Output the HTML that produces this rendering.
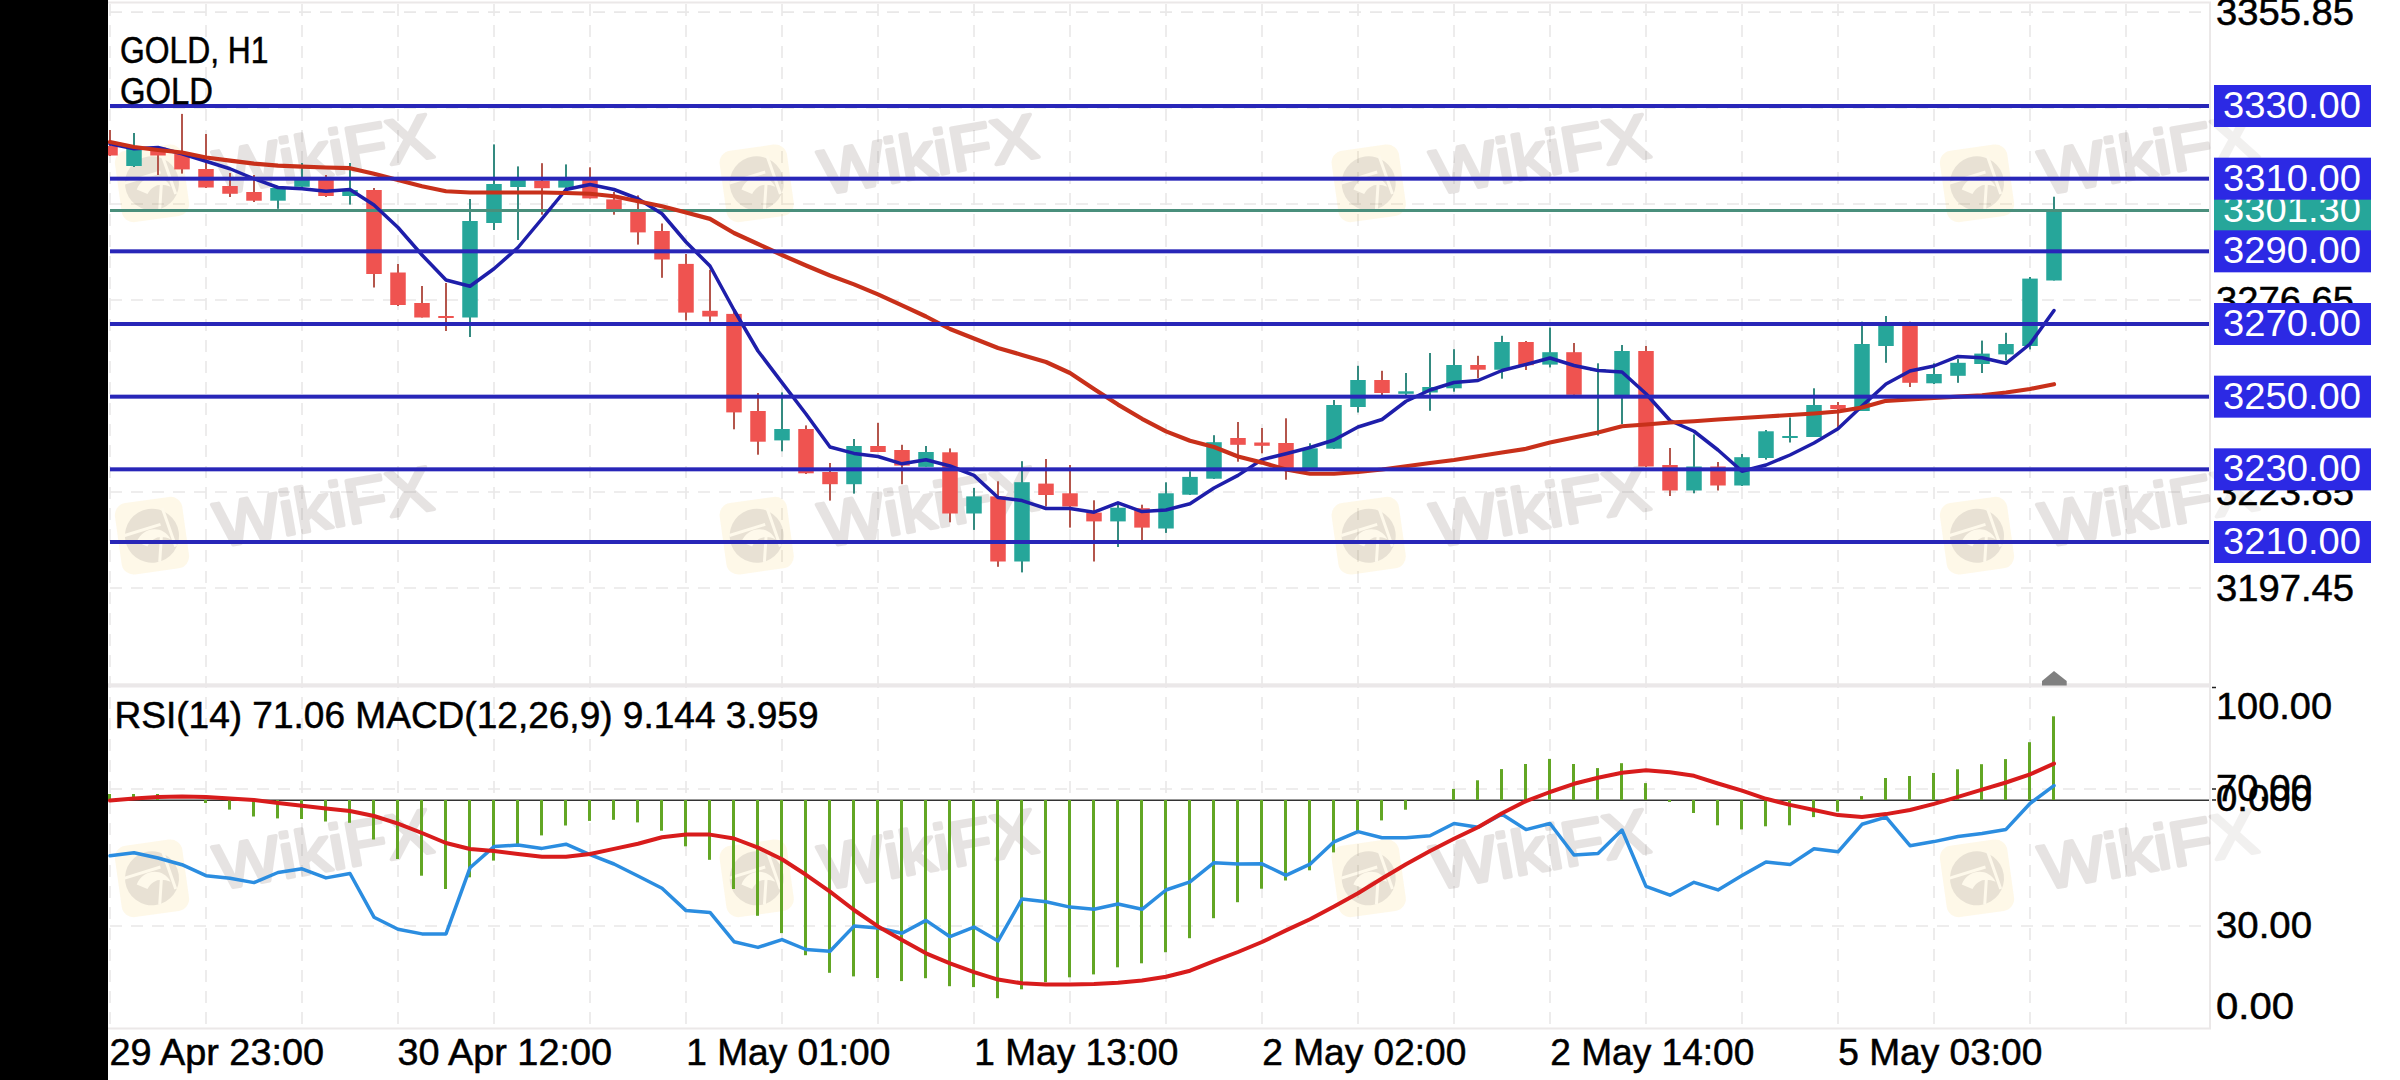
<!DOCTYPE html>
<html><head><meta charset="utf-8"><title>GOLD H1</title>
<style>html,body{margin:0;padding:0;width:2400px;height:1080px;overflow:hidden;background:#fff;position:relative}</style>
</head><body>
<svg width="2400" height="1080" viewBox="0 0 2400 1080" style="position:absolute;left:0;top:0;display:block">
<rect x="0" y="0" width="2400" height="1080" fill="#ffffff"/>
<g fill="none" stroke="#ebe8e8">
<line x1="108" y1="2.5" x2="2211" y2="2.5" stroke-width="2"/>
<line x1="2210" y1="2" x2="2210" y2="1029" stroke-width="2"/>
<line x1="108" y1="1028.5" x2="2211" y2="1028.5" stroke-width="2"/>
</g>
<g stroke="#e9e8e8" stroke-width="1.6" stroke-dasharray="12 9" fill="none">
<line x1="110" y1="4" x2="110" y2="1027"/>
<line x1="206" y1="4" x2="206" y2="1027"/>
<line x1="302" y1="4" x2="302" y2="1027"/>
<line x1="398" y1="4" x2="398" y2="1027"/>
<line x1="494" y1="4" x2="494" y2="1027"/>
<line x1="590" y1="4" x2="590" y2="1027"/>
<line x1="686" y1="4" x2="686" y2="1027"/>
<line x1="782" y1="4" x2="782" y2="1027"/>
<line x1="878" y1="4" x2="878" y2="1027"/>
<line x1="974" y1="4" x2="974" y2="1027"/>
<line x1="1070" y1="4" x2="1070" y2="1027"/>
<line x1="1166" y1="4" x2="1166" y2="1027"/>
<line x1="1262" y1="4" x2="1262" y2="1027"/>
<line x1="1358" y1="4" x2="1358" y2="1027"/>
<line x1="1454" y1="4" x2="1454" y2="1027"/>
<line x1="1550" y1="4" x2="1550" y2="1027"/>
<line x1="1646" y1="4" x2="1646" y2="1027"/>
<line x1="1742" y1="4" x2="1742" y2="1027"/>
<line x1="1838" y1="4" x2="1838" y2="1027"/>
<line x1="1934" y1="4" x2="1934" y2="1027"/>
<line x1="2030" y1="4" x2="2030" y2="1027"/>
<line x1="2126" y1="4" x2="2126" y2="1027"/>
<line x1="110" y1="12.1" x2="2209" y2="12.1"/>
<line x1="110" y1="108" x2="2209" y2="108"/>
<line x1="110" y1="204" x2="2209" y2="204"/>
<line x1="110" y1="300" x2="2209" y2="300"/>
<line x1="110" y1="396" x2="2209" y2="396"/>
<line x1="110" y1="492" x2="2209" y2="492"/>
<line x1="110" y1="588" x2="2209" y2="588"/>
<line x1="110" y1="789" x2="2209" y2="789"/>
<line x1="110" y1="926" x2="2209" y2="926"/>
</g>
<rect x="108" y="683.3" width="2102" height="4.2" fill="#ebe8e9"/>
<g transform="translate(152,183.3) rotate(-8)">
<rect x="-34" y="-36" width="68" height="72" rx="12" fill="#f5c842" fill-opacity="0.12"/>
<g opacity="0.15"><circle cx="0" cy="0" r="27" fill="#6f6565"/>
<path d="M-16,4 C-8,-10 12,-10 18,6 C8,0 0,2 -6,10 Z" fill="#ffffff"/>
<path d="M4,27 L10,-2 M-27,-4 L10,-10 M14,-26 L22,14" stroke="#ffffff" stroke-width="3"/></g>
</g>
<g transform="translate(152,183.3) rotate(-10)" opacity="0.18">
<text x="64" y="23" font-family='"Liberation Sans", sans-serif' font-size="63" fill="#7a6b66" stroke="#7a6b66" stroke-width="3.5" stroke-linejoin="round" stroke-linecap="round" textLength="220" lengthAdjust="spacingAndGlyphs">WikiFX</text>
</g>
<g transform="translate(756.7,183.3) rotate(-8)">
<rect x="-34" y="-36" width="68" height="72" rx="12" fill="#f5c842" fill-opacity="0.12"/>
<g opacity="0.15"><circle cx="0" cy="0" r="27" fill="#6f6565"/>
<path d="M-16,4 C-8,-10 12,-10 18,6 C8,0 0,2 -6,10 Z" fill="#ffffff"/>
<path d="M4,27 L10,-2 M-27,-4 L10,-10 M14,-26 L22,14" stroke="#ffffff" stroke-width="3"/></g>
</g>
<g transform="translate(756.7,183.3) rotate(-10)" opacity="0.18">
<text x="64" y="23" font-family='"Liberation Sans", sans-serif' font-size="63" fill="#7a6b66" stroke="#7a6b66" stroke-width="3.5" stroke-linejoin="round" stroke-linecap="round" textLength="220" lengthAdjust="spacingAndGlyphs">WikiFX</text>
</g>
<g transform="translate(1368.7,183.3) rotate(-8)">
<rect x="-34" y="-36" width="68" height="72" rx="12" fill="#f5c842" fill-opacity="0.12"/>
<g opacity="0.15"><circle cx="0" cy="0" r="27" fill="#6f6565"/>
<path d="M-16,4 C-8,-10 12,-10 18,6 C8,0 0,2 -6,10 Z" fill="#ffffff"/>
<path d="M4,27 L10,-2 M-27,-4 L10,-10 M14,-26 L22,14" stroke="#ffffff" stroke-width="3"/></g>
</g>
<g transform="translate(1368.7,183.3) rotate(-10)" opacity="0.18">
<text x="64" y="23" font-family='"Liberation Sans", sans-serif' font-size="63" fill="#7a6b66" stroke="#7a6b66" stroke-width="3.5" stroke-linejoin="round" stroke-linecap="round" textLength="220" lengthAdjust="spacingAndGlyphs">WikiFX</text>
</g>
<g transform="translate(1977,183.3) rotate(-8)">
<rect x="-34" y="-36" width="68" height="72" rx="12" fill="#f5c842" fill-opacity="0.12"/>
<g opacity="0.15"><circle cx="0" cy="0" r="27" fill="#6f6565"/>
<path d="M-16,4 C-8,-10 12,-10 18,6 C8,0 0,2 -6,10 Z" fill="#ffffff"/>
<path d="M4,27 L10,-2 M-27,-4 L10,-10 M14,-26 L22,14" stroke="#ffffff" stroke-width="3"/></g>
</g>
<g transform="translate(1977,183.3) rotate(-10)" opacity="0.18">
<text x="64" y="23" font-family='"Liberation Sans", sans-serif' font-size="63" fill="#7a6b66" stroke="#7a6b66" stroke-width="3.5" stroke-linejoin="round" stroke-linecap="round" textLength="220" lengthAdjust="spacingAndGlyphs">WikiFX</text>
</g>
<g transform="translate(152,535.7) rotate(-8)">
<rect x="-34" y="-36" width="68" height="72" rx="12" fill="#f5c842" fill-opacity="0.12"/>
<g opacity="0.15"><circle cx="0" cy="0" r="27" fill="#6f6565"/>
<path d="M-16,4 C-8,-10 12,-10 18,6 C8,0 0,2 -6,10 Z" fill="#ffffff"/>
<path d="M4,27 L10,-2 M-27,-4 L10,-10 M14,-26 L22,14" stroke="#ffffff" stroke-width="3"/></g>
</g>
<g transform="translate(152,535.7) rotate(-10)" opacity="0.18">
<text x="64" y="23" font-family='"Liberation Sans", sans-serif' font-size="63" fill="#7a6b66" stroke="#7a6b66" stroke-width="3.5" stroke-linejoin="round" stroke-linecap="round" textLength="220" lengthAdjust="spacingAndGlyphs">WikiFX</text>
</g>
<g transform="translate(756.7,535.7) rotate(-8)">
<rect x="-34" y="-36" width="68" height="72" rx="12" fill="#f5c842" fill-opacity="0.12"/>
<g opacity="0.15"><circle cx="0" cy="0" r="27" fill="#6f6565"/>
<path d="M-16,4 C-8,-10 12,-10 18,6 C8,0 0,2 -6,10 Z" fill="#ffffff"/>
<path d="M4,27 L10,-2 M-27,-4 L10,-10 M14,-26 L22,14" stroke="#ffffff" stroke-width="3"/></g>
</g>
<g transform="translate(756.7,535.7) rotate(-10)" opacity="0.18">
<text x="64" y="23" font-family='"Liberation Sans", sans-serif' font-size="63" fill="#7a6b66" stroke="#7a6b66" stroke-width="3.5" stroke-linejoin="round" stroke-linecap="round" textLength="220" lengthAdjust="spacingAndGlyphs">WikiFX</text>
</g>
<g transform="translate(1368.7,535.7) rotate(-8)">
<rect x="-34" y="-36" width="68" height="72" rx="12" fill="#f5c842" fill-opacity="0.12"/>
<g opacity="0.15"><circle cx="0" cy="0" r="27" fill="#6f6565"/>
<path d="M-16,4 C-8,-10 12,-10 18,6 C8,0 0,2 -6,10 Z" fill="#ffffff"/>
<path d="M4,27 L10,-2 M-27,-4 L10,-10 M14,-26 L22,14" stroke="#ffffff" stroke-width="3"/></g>
</g>
<g transform="translate(1368.7,535.7) rotate(-10)" opacity="0.18">
<text x="64" y="23" font-family='"Liberation Sans", sans-serif' font-size="63" fill="#7a6b66" stroke="#7a6b66" stroke-width="3.5" stroke-linejoin="round" stroke-linecap="round" textLength="220" lengthAdjust="spacingAndGlyphs">WikiFX</text>
</g>
<g transform="translate(1977,535.7) rotate(-8)">
<rect x="-34" y="-36" width="68" height="72" rx="12" fill="#f5c842" fill-opacity="0.12"/>
<g opacity="0.15"><circle cx="0" cy="0" r="27" fill="#6f6565"/>
<path d="M-16,4 C-8,-10 12,-10 18,6 C8,0 0,2 -6,10 Z" fill="#ffffff"/>
<path d="M4,27 L10,-2 M-27,-4 L10,-10 M14,-26 L22,14" stroke="#ffffff" stroke-width="3"/></g>
</g>
<g transform="translate(1977,535.7) rotate(-10)" opacity="0.18">
<text x="64" y="23" font-family='"Liberation Sans", sans-serif' font-size="63" fill="#7a6b66" stroke="#7a6b66" stroke-width="3.5" stroke-linejoin="round" stroke-linecap="round" textLength="220" lengthAdjust="spacingAndGlyphs">WikiFX</text>
</g>
<g transform="translate(152,878.3) rotate(-8)">
<rect x="-34" y="-36" width="68" height="72" rx="12" fill="#f5c842" fill-opacity="0.12"/>
<g opacity="0.15"><circle cx="0" cy="0" r="27" fill="#6f6565"/>
<path d="M-16,4 C-8,-10 12,-10 18,6 C8,0 0,2 -6,10 Z" fill="#ffffff"/>
<path d="M4,27 L10,-2 M-27,-4 L10,-10 M14,-26 L22,14" stroke="#ffffff" stroke-width="3"/></g>
</g>
<g transform="translate(152,878.3) rotate(-10)" opacity="0.18">
<text x="64" y="23" font-family='"Liberation Sans", sans-serif' font-size="63" fill="#7a6b66" stroke="#7a6b66" stroke-width="3.5" stroke-linejoin="round" stroke-linecap="round" textLength="220" lengthAdjust="spacingAndGlyphs">WikiFX</text>
</g>
<g transform="translate(756.7,878.3) rotate(-8)">
<rect x="-34" y="-36" width="68" height="72" rx="12" fill="#f5c842" fill-opacity="0.12"/>
<g opacity="0.15"><circle cx="0" cy="0" r="27" fill="#6f6565"/>
<path d="M-16,4 C-8,-10 12,-10 18,6 C8,0 0,2 -6,10 Z" fill="#ffffff"/>
<path d="M4,27 L10,-2 M-27,-4 L10,-10 M14,-26 L22,14" stroke="#ffffff" stroke-width="3"/></g>
</g>
<g transform="translate(756.7,878.3) rotate(-10)" opacity="0.18">
<text x="64" y="23" font-family='"Liberation Sans", sans-serif' font-size="63" fill="#7a6b66" stroke="#7a6b66" stroke-width="3.5" stroke-linejoin="round" stroke-linecap="round" textLength="220" lengthAdjust="spacingAndGlyphs">WikiFX</text>
</g>
<g transform="translate(1368.7,878.3) rotate(-8)">
<rect x="-34" y="-36" width="68" height="72" rx="12" fill="#f5c842" fill-opacity="0.12"/>
<g opacity="0.15"><circle cx="0" cy="0" r="27" fill="#6f6565"/>
<path d="M-16,4 C-8,-10 12,-10 18,6 C8,0 0,2 -6,10 Z" fill="#ffffff"/>
<path d="M4,27 L10,-2 M-27,-4 L10,-10 M14,-26 L22,14" stroke="#ffffff" stroke-width="3"/></g>
</g>
<g transform="translate(1368.7,878.3) rotate(-10)" opacity="0.18">
<text x="64" y="23" font-family='"Liberation Sans", sans-serif' font-size="63" fill="#7a6b66" stroke="#7a6b66" stroke-width="3.5" stroke-linejoin="round" stroke-linecap="round" textLength="220" lengthAdjust="spacingAndGlyphs">WikiFX</text>
</g>
<g transform="translate(1977,878.3) rotate(-8)">
<rect x="-34" y="-36" width="68" height="72" rx="12" fill="#f5c842" fill-opacity="0.12"/>
<g opacity="0.15"><circle cx="0" cy="0" r="27" fill="#6f6565"/>
<path d="M-16,4 C-8,-10 12,-10 18,6 C8,0 0,2 -6,10 Z" fill="#ffffff"/>
<path d="M4,27 L10,-2 M-27,-4 L10,-10 M14,-26 L22,14" stroke="#ffffff" stroke-width="3"/></g>
</g>
<g transform="translate(1977,878.3) rotate(-10)" opacity="0.18">
<text x="64" y="23" font-family='"Liberation Sans", sans-serif' font-size="63" fill="#7a6b66" stroke="#7a6b66" stroke-width="3.5" stroke-linejoin="round" stroke-linecap="round" textLength="220" lengthAdjust="spacingAndGlyphs">WikiFX</text>
</g>
<rect x="2211" y="0" width="189" height="1080" fill="#ffffff" fill-opacity="0.45"/>
<rect x="109" y="130" width="2" height="26" fill="#b4564c"/>
<rect x="102.25" y="146" width="15.5" height="9.5" fill="#ef5350"/>
<rect x="133" y="133" width="2" height="34" fill="#348a80"/>
<rect x="126.25" y="149" width="15.5" height="17" fill="#26a69a"/>
<rect x="157" y="146" width="2" height="29" fill="#b4564c"/>
<rect x="150.25" y="147.5" width="15.5" height="8" fill="#ef5350"/>
<rect x="181" y="113.9" width="2" height="59.7" fill="#b4564c"/>
<rect x="174.25" y="153.7" width="15.5" height="15.7" fill="#ef5350"/>
<rect x="205" y="134" width="2" height="54" fill="#b4564c"/>
<rect x="198.25" y="169" width="15.5" height="18.5" fill="#ef5350"/>
<rect x="229" y="173" width="2" height="24" fill="#b4564c"/>
<rect x="222.25" y="186" width="15.5" height="7.75" fill="#ef5350"/>
<rect x="253" y="175" width="2" height="27" fill="#b4564c"/>
<rect x="246.25" y="192" width="15.5" height="8.7" fill="#ef5350"/>
<rect x="277" y="186.8" width="2" height="22" fill="#348a80"/>
<rect x="270.25" y="188" width="15.5" height="12.7" fill="#26a69a"/>
<rect x="301" y="163" width="2" height="25" fill="#348a80"/>
<rect x="294.25" y="180" width="15.5" height="6.8" fill="#26a69a"/>
<rect x="325" y="175" width="2" height="22" fill="#b4564c"/>
<rect x="318.25" y="180" width="15.5" height="16" fill="#ef5350"/>
<rect x="349" y="163" width="2" height="41.6" fill="#348a80"/>
<rect x="342.25" y="190" width="15.5" height="6" fill="#26a69a"/>
<rect x="373" y="188" width="2" height="99.5" fill="#b4564c"/>
<rect x="366.25" y="190" width="15.5" height="84" fill="#ef5350"/>
<rect x="397" y="264" width="2" height="42" fill="#b4564c"/>
<rect x="390.25" y="272.5" width="15.5" height="32.5" fill="#ef5350"/>
<rect x="421" y="286" width="2" height="31.5" fill="#b4564c"/>
<rect x="414.25" y="303" width="15.5" height="14.5" fill="#ef5350"/>
<rect x="445" y="283" width="2" height="48" fill="#b4564c"/>
<rect x="438.25" y="316" width="15.5" height="2" fill="#ef5350"/>
<rect x="469" y="199" width="2" height="138" fill="#348a80"/>
<rect x="462.25" y="221" width="15.5" height="96.5" fill="#26a69a"/>
<rect x="493" y="144.4" width="2" height="85.6" fill="#348a80"/>
<rect x="486.25" y="184" width="15.5" height="39" fill="#26a69a"/>
<rect x="517" y="166.4" width="2" height="73.6" fill="#348a80"/>
<rect x="510.25" y="180" width="15.5" height="7" fill="#26a69a"/>
<rect x="541" y="163.2" width="2" height="51.5" fill="#b4564c"/>
<rect x="534.25" y="180.7" width="15.5" height="7.5" fill="#ef5350"/>
<rect x="565" y="164.4" width="2" height="23.6" fill="#348a80"/>
<rect x="558.25" y="180" width="15.5" height="7.6" fill="#26a69a"/>
<rect x="589" y="167.3" width="2" height="31.1" fill="#b4564c"/>
<rect x="582.25" y="180" width="15.5" height="18.4" fill="#ef5350"/>
<rect x="613" y="192" width="2" height="22.7" fill="#b4564c"/>
<rect x="606.25" y="199.4" width="15.5" height="11.2" fill="#ef5350"/>
<rect x="637" y="195.4" width="2" height="49.2" fill="#b4564c"/>
<rect x="630.25" y="209.6" width="15.5" height="22.8" fill="#ef5350"/>
<rect x="661" y="223.5" width="2" height="54.3" fill="#b4564c"/>
<rect x="654.25" y="231" width="15.5" height="28.5" fill="#ef5350"/>
<rect x="685" y="254" width="2" height="66.4" fill="#b4564c"/>
<rect x="678.25" y="263.9" width="15.5" height="48.7" fill="#ef5350"/>
<rect x="709" y="269.8" width="2" height="51.9" fill="#b4564c"/>
<rect x="702.25" y="310.8" width="15.5" height="5.7" fill="#ef5350"/>
<rect x="733" y="308.7" width="2" height="120.6" fill="#b4564c"/>
<rect x="726.25" y="313.9" width="15.5" height="98.5" fill="#ef5350"/>
<rect x="757" y="393" width="2" height="61.7" fill="#b4564c"/>
<rect x="750.25" y="411" width="15.5" height="30.7" fill="#ef5350"/>
<rect x="781" y="392.4" width="2" height="58.9" fill="#348a80"/>
<rect x="774.25" y="429" width="15.5" height="11.4" fill="#26a69a"/>
<rect x="805" y="425.4" width="2" height="48.6" fill="#b4564c"/>
<rect x="798.25" y="429" width="15.5" height="44.3" fill="#ef5350"/>
<rect x="829" y="463" width="2" height="37.6" fill="#b4564c"/>
<rect x="822.25" y="472" width="15.5" height="12.2" fill="#ef5350"/>
<rect x="853" y="439" width="2" height="54.6" fill="#348a80"/>
<rect x="846.25" y="446" width="15.5" height="38.2" fill="#26a69a"/>
<rect x="877" y="422.8" width="2" height="29.2" fill="#b4564c"/>
<rect x="870.25" y="446" width="15.5" height="6" fill="#ef5350"/>
<rect x="901" y="444.8" width="2" height="39.4" fill="#b4564c"/>
<rect x="894.25" y="450" width="15.5" height="15.6" fill="#ef5350"/>
<rect x="925" y="446" width="2" height="21" fill="#348a80"/>
<rect x="918.25" y="452" width="15.5" height="14.9" fill="#26a69a"/>
<rect x="949" y="448.4" width="2" height="73.9" fill="#b4564c"/>
<rect x="942.25" y="452.3" width="15.5" height="61.2" fill="#ef5350"/>
<rect x="973" y="488" width="2" height="41.9" fill="#348a80"/>
<rect x="966.25" y="496.4" width="15.5" height="17.1" fill="#26a69a"/>
<rect x="997" y="481.3" width="2" height="85.5" fill="#b4564c"/>
<rect x="990.25" y="496.4" width="15.5" height="65.1" fill="#ef5350"/>
<rect x="1021" y="461.2" width="2" height="111.2" fill="#348a80"/>
<rect x="1014.25" y="482.2" width="15.5" height="79.3" fill="#26a69a"/>
<rect x="1045" y="459" width="2" height="47.5" fill="#b4564c"/>
<rect x="1038.25" y="483.6" width="15.5" height="11.4" fill="#ef5350"/>
<rect x="1069" y="465" width="2" height="62.6" fill="#b4564c"/>
<rect x="1062.25" y="493.3" width="15.5" height="13.2" fill="#ef5350"/>
<rect x="1093" y="500.3" width="2" height="61.2" fill="#b4564c"/>
<rect x="1086.25" y="512.6" width="15.5" height="8.8" fill="#ef5350"/>
<rect x="1117" y="502" width="2" height="45" fill="#348a80"/>
<rect x="1110.25" y="507.7" width="15.5" height="13.7" fill="#26a69a"/>
<rect x="1141" y="504.7" width="2" height="35.3" fill="#b4564c"/>
<rect x="1134.25" y="508.2" width="15.5" height="19.4" fill="#ef5350"/>
<rect x="1165" y="482.3" width="2" height="50.6" fill="#348a80"/>
<rect x="1158.25" y="493.3" width="15.5" height="35.2" fill="#26a69a"/>
<rect x="1189" y="471.3" width="2" height="23.7" fill="#348a80"/>
<rect x="1182.25" y="476.9" width="15.5" height="17.8" fill="#26a69a"/>
<rect x="1213" y="435.2" width="2" height="43.8" fill="#348a80"/>
<rect x="1206.25" y="442.2" width="15.5" height="36.5" fill="#26a69a"/>
<rect x="1237" y="422" width="2" height="39.7" fill="#b4564c"/>
<rect x="1230.25" y="438" width="15.5" height="6.8" fill="#ef5350"/>
<rect x="1261" y="428" width="2" height="25.3" fill="#b4564c"/>
<rect x="1254.25" y="442.5" width="15.5" height="3.3" fill="#ef5350"/>
<rect x="1285" y="418.3" width="2" height="61.4" fill="#b4564c"/>
<rect x="1278.25" y="443" width="15.5" height="25.3" fill="#ef5350"/>
<rect x="1309" y="443.3" width="2" height="25.7" fill="#348a80"/>
<rect x="1302.25" y="448.3" width="15.5" height="20" fill="#26a69a"/>
<rect x="1333" y="400" width="2" height="49" fill="#348a80"/>
<rect x="1326.25" y="405" width="15.5" height="43.7" fill="#26a69a"/>
<rect x="1357" y="365.8" width="2" height="46.7" fill="#348a80"/>
<rect x="1350.25" y="380" width="15.5" height="27" fill="#26a69a"/>
<rect x="1381" y="370.8" width="2" height="24.2" fill="#b4564c"/>
<rect x="1374.25" y="380" width="15.5" height="13" fill="#ef5350"/>
<rect x="1405" y="373" width="2" height="22.8" fill="#348a80"/>
<rect x="1398.25" y="391.3" width="15.5" height="2.5" fill="#26a69a"/>
<rect x="1429" y="353" width="2" height="57.8" fill="#348a80"/>
<rect x="1422.25" y="387" width="15.5" height="5.5" fill="#26a69a"/>
<rect x="1453" y="349.2" width="2" height="42.5" fill="#348a80"/>
<rect x="1446.25" y="365" width="15.5" height="23.3" fill="#26a69a"/>
<rect x="1477" y="355.8" width="2" height="22.5" fill="#b4564c"/>
<rect x="1470.25" y="365" width="15.5" height="4.7" fill="#ef5350"/>
<rect x="1501" y="335.8" width="2" height="42.9" fill="#348a80"/>
<rect x="1494.25" y="342" width="15.5" height="27.7" fill="#26a69a"/>
<rect x="1525" y="341" width="2" height="29" fill="#b4564c"/>
<rect x="1518.25" y="342" width="15.5" height="23.2" fill="#ef5350"/>
<rect x="1549" y="327.6" width="2" height="39.8" fill="#348a80"/>
<rect x="1542.25" y="352.2" width="15.5" height="12.4" fill="#26a69a"/>
<rect x="1573" y="343" width="2" height="52" fill="#b4564c"/>
<rect x="1566.25" y="352.2" width="15.5" height="42.6" fill="#ef5350"/>
<rect x="1597" y="363.3" width="2" height="72.3" fill="#348a80"/>
<rect x="1590.25" y="369" width="15.5" height="2" fill="#26a69a"/>
<rect x="1621" y="345" width="2" height="79" fill="#348a80"/>
<rect x="1614.25" y="351" width="15.5" height="44" fill="#26a69a"/>
<rect x="1645" y="346" width="2" height="121" fill="#b4564c"/>
<rect x="1638.25" y="351" width="15.5" height="115.5" fill="#ef5350"/>
<rect x="1669" y="448" width="2" height="48" fill="#b4564c"/>
<rect x="1662.25" y="465" width="15.5" height="25.5" fill="#ef5350"/>
<rect x="1693" y="434.4" width="2" height="58.9" fill="#348a80"/>
<rect x="1686.25" y="466.5" width="15.5" height="24" fill="#26a69a"/>
<rect x="1717" y="462" width="2" height="28.5" fill="#b4564c"/>
<rect x="1710.25" y="466.5" width="15.5" height="19" fill="#ef5350"/>
<rect x="1741" y="454" width="2" height="32" fill="#348a80"/>
<rect x="1734.25" y="457.2" width="15.5" height="28.3" fill="#26a69a"/>
<rect x="1765" y="430" width="2" height="29.6" fill="#348a80"/>
<rect x="1758.25" y="431.3" width="15.5" height="26.7" fill="#26a69a"/>
<rect x="1789" y="417.5" width="2" height="25" fill="#348a80"/>
<rect x="1782.25" y="436" width="15.5" height="2" fill="#26a69a"/>
<rect x="1813" y="388.3" width="2" height="48.7" fill="#348a80"/>
<rect x="1806.25" y="405" width="15.5" height="32" fill="#26a69a"/>
<rect x="1837" y="402" width="2" height="26.6" fill="#b4564c"/>
<rect x="1830.25" y="405" width="15.5" height="4" fill="#ef5350"/>
<rect x="1861" y="321.7" width="2" height="89.3" fill="#348a80"/>
<rect x="1854.25" y="344" width="15.5" height="67" fill="#26a69a"/>
<rect x="1885" y="316" width="2" height="46.8" fill="#348a80"/>
<rect x="1878.25" y="325.8" width="15.5" height="20.2" fill="#26a69a"/>
<rect x="1909" y="321.7" width="2" height="65.3" fill="#b4564c"/>
<rect x="1902.25" y="323" width="15.5" height="59.8" fill="#ef5350"/>
<rect x="1933" y="363.3" width="2" height="20.7" fill="#348a80"/>
<rect x="1926.25" y="374" width="15.5" height="9.3" fill="#26a69a"/>
<rect x="1957" y="359" width="2" height="23.8" fill="#348a80"/>
<rect x="1950.25" y="362.8" width="15.5" height="13" fill="#26a69a"/>
<rect x="1981" y="340.6" width="2" height="32.4" fill="#348a80"/>
<rect x="1974.25" y="353.6" width="15.5" height="10.4" fill="#26a69a"/>
<rect x="2005" y="332.8" width="2" height="27.7" fill="#348a80"/>
<rect x="1998.25" y="344" width="15.5" height="10.4" fill="#26a69a"/>
<rect x="2029" y="277" width="2" height="72.4" fill="#348a80"/>
<rect x="2022.25" y="278.6" width="15.5" height="67.4" fill="#26a69a"/>
<rect x="2053" y="196.7" width="2" height="83.8" fill="#348a80"/>
<rect x="2046.25" y="210" width="15.5" height="70.5" fill="#26a69a"/>
<rect x="110" y="209" width="2099" height="3" fill="#4a8f7c"/>
<polyline points="110,143.75 134,148.75 158,147.5 182,153.75 206,161.25 230,168.75 254,178.75 278,187.5 302,188.75 326,191.25 350,189.5 374,205 398,227.5 422,255 446,280 470,286.25 494,268.75 518,247.5 542,218.75 566,189.5 590,184.5 614,189.5 638,198.75 662,213.75 686,242 710,266 734,310 758,351 782,382.6 806,414 830,447 854,453.4 878,456.5 902,463.8 926,459.7 950,466 974,475.4 998,497.5 1022,500.6 1046,508.5 1070,508.5 1094,512.2 1118,502.8 1142,511.6 1166,510 1190,503.7 1214,488 1238,475.4 1262,459.6 1286,453.75 1310,447.5 1334,440 1358,427 1382,419.5 1406,401.25 1430,390 1454,382.5 1478,380.5 1502,370.5 1526,364.5 1550,358 1574,365.5 1598,370.5 1622,372 1646,393.75 1670,420.5 1694,431.25 1718,450 1742,471.25 1766,465 1790,455 1814,443 1838,428.7 1862,406 1886,384 1910,371 1934,366 1958,356.4 1982,357.8 2006,363.3 2030,344 2054,310.5" fill="none" stroke="#1e1eaa" stroke-width="3.5" stroke-linejoin="round" stroke-linecap="round"/>
<polyline points="110,142 134,147 158,150 182,152.5 206,157.5 230,160.7 254,163.7 278,165.7 302,166.7 326,167.5 350,168.2 374,173.75 398,180 422,186.25 446,191.25 470,192.5 494,192.5 518,192.5 542,192.5 566,193 590,193.75 614,196.25 638,201.25 662,206.25 686,212.5 710,218.9 734,233 758,244 782,255 806,265.5 830,275.5 854,284.4 878,294.4 902,305.4 926,316.5 950,329 974,338.5 998,348 1022,354.9 1046,362 1070,373 1094,388.9 1118,404.6 1142,418.8 1166,431.4 1190,440.8 1214,447 1238,456.5 1262,462.6 1286,469.5 1310,473.75 1334,473.75 1358,472 1382,469.5 1406,466.25 1430,463 1454,460 1478,456.25 1502,452.5 1526,448.75 1550,442.5 1574,437.5 1598,432.5 1622,426.25 1646,424.5 1670,422.5 1694,421.25 1718,419.5 1742,418 1766,416.5 1790,415 1814,413.5 1838,411.5 1862,407.5 1886,400.8 1910,399.4 1934,398 1958,396.7 1982,395.3 2006,392.5 2030,389 2054,384.2" fill="none" stroke="#c8301a" stroke-width="4.2" stroke-linejoin="round" stroke-linecap="round"/>
<rect x="110" y="104" width="2099" height="4" fill="#2826b8"/>
<rect x="110" y="176.67" width="2099" height="4" fill="#2826b8"/>
<rect x="110" y="249.33" width="2099" height="4" fill="#2826b8"/>
<rect x="110" y="322" width="2099" height="4" fill="#2826b8"/>
<rect x="110" y="394.66" width="2099" height="4" fill="#2826b8"/>
<rect x="110" y="467.33" width="2099" height="4" fill="#2826b8"/>
<rect x="110" y="540" width="2099" height="4" fill="#2826b8"/>
<rect x="110" y="799.5" width="2099" height="1.5" fill="#333333"/>
<rect x="108" y="794" width="3" height="6" fill="#62a624"/>
<rect x="132" y="794" width="3" height="6" fill="#62a624"/>
<rect x="156" y="794" width="3" height="6" fill="#62a624"/>
<rect x="204" y="800" width="3" height="3" fill="#62a624"/>
<rect x="228" y="800" width="3" height="9.6" fill="#62a624"/>
<rect x="252" y="800" width="3" height="16.5" fill="#62a624"/>
<rect x="276" y="800" width="3" height="18.4" fill="#62a624"/>
<rect x="300" y="800" width="3" height="19" fill="#62a624"/>
<rect x="324" y="800" width="3" height="21.5" fill="#62a624"/>
<rect x="348" y="800" width="3" height="22.8" fill="#62a624"/>
<rect x="372" y="800" width="3" height="39.5" fill="#62a624"/>
<rect x="396" y="800" width="3" height="59" fill="#62a624"/>
<rect x="420" y="800" width="3" height="75.7" fill="#62a624"/>
<rect x="444" y="800" width="3" height="89" fill="#62a624"/>
<rect x="468" y="800" width="3" height="77.3" fill="#62a624"/>
<rect x="492" y="800" width="3" height="60.6" fill="#62a624"/>
<rect x="516" y="800" width="3" height="45" fill="#62a624"/>
<rect x="540" y="800" width="3" height="35.4" fill="#62a624"/>
<rect x="564" y="800" width="3" height="25.5" fill="#62a624"/>
<rect x="588" y="800" width="3" height="20.9" fill="#62a624"/>
<rect x="612" y="800" width="3" height="19.8" fill="#62a624"/>
<rect x="636" y="800" width="3" height="22.4" fill="#62a624"/>
<rect x="660" y="800" width="3" height="30.7" fill="#62a624"/>
<rect x="684" y="800" width="3" height="46.3" fill="#62a624"/>
<rect x="708" y="800" width="3" height="59.8" fill="#62a624"/>
<rect x="732" y="800" width="3" height="89" fill="#62a624"/>
<rect x="756" y="800" width="3" height="115.8" fill="#62a624"/>
<rect x="780" y="800" width="3" height="133.1" fill="#62a624"/>
<rect x="804" y="800" width="3" height="155.2" fill="#62a624"/>
<rect x="828" y="800" width="3" height="172.8" fill="#62a624"/>
<rect x="852" y="800" width="3" height="176.4" fill="#62a624"/>
<rect x="876" y="800" width="3" height="178" fill="#62a624"/>
<rect x="900" y="800" width="3" height="181.1" fill="#62a624"/>
<rect x="924" y="800" width="3" height="178.2" fill="#62a624"/>
<rect x="948" y="800" width="3" height="186.2" fill="#62a624"/>
<rect x="972" y="800" width="3" height="187.1" fill="#62a624"/>
<rect x="996" y="800" width="3" height="198.2" fill="#62a624"/>
<rect x="1020" y="800" width="3" height="189.3" fill="#62a624"/>
<rect x="1044" y="800" width="3" height="182.2" fill="#62a624"/>
<rect x="1068" y="800" width="3" height="177.3" fill="#62a624"/>
<rect x="1092" y="800" width="3" height="174.4" fill="#62a624"/>
<rect x="1116" y="800" width="3" height="167.3" fill="#62a624"/>
<rect x="1140" y="800" width="3" height="163.3" fill="#62a624"/>
<rect x="1164" y="800" width="3" height="152.2" fill="#62a624"/>
<rect x="1188" y="800" width="3" height="138.2" fill="#62a624"/>
<rect x="1212" y="800" width="3" height="118.2" fill="#62a624"/>
<rect x="1236" y="800" width="3" height="102.2" fill="#62a624"/>
<rect x="1260" y="800" width="3" height="88.7" fill="#62a624"/>
<rect x="1284" y="800" width="3" height="80.5" fill="#62a624"/>
<rect x="1308" y="800" width="3" height="70.3" fill="#62a624"/>
<rect x="1332" y="800" width="3" height="52.4" fill="#62a624"/>
<rect x="1356" y="800" width="3" height="31.6" fill="#62a624"/>
<rect x="1380" y="800" width="3" height="20.4" fill="#62a624"/>
<rect x="1404" y="800" width="3" height="9.7" fill="#62a624"/>
<rect x="1452" y="788.9" width="3" height="11.1" fill="#62a624"/>
<rect x="1476" y="780.3" width="3" height="19.7" fill="#62a624"/>
<rect x="1500" y="769.1" width="3" height="30.9" fill="#62a624"/>
<rect x="1524" y="764" width="3" height="36" fill="#62a624"/>
<rect x="1548" y="758.9" width="3" height="41.1" fill="#62a624"/>
<rect x="1572" y="764" width="3" height="36" fill="#62a624"/>
<rect x="1596" y="768.1" width="3" height="31.9" fill="#62a624"/>
<rect x="1620" y="763.2" width="3" height="36.8" fill="#62a624"/>
<rect x="1644" y="783.1" width="3" height="16.9" fill="#62a624"/>
<rect x="1668" y="800" width="3" height="1.9" fill="#62a624"/>
<rect x="1692" y="800" width="3" height="13" fill="#62a624"/>
<rect x="1716" y="800" width="3" height="25.3" fill="#62a624"/>
<rect x="1740" y="800" width="3" height="29.4" fill="#62a624"/>
<rect x="1764" y="800" width="3" height="26.3" fill="#62a624"/>
<rect x="1788" y="800" width="3" height="25.3" fill="#62a624"/>
<rect x="1812" y="800" width="3" height="17.1" fill="#62a624"/>
<rect x="1836" y="800" width="3" height="11.6" fill="#62a624"/>
<rect x="1860" y="796.1" width="3" height="3.9" fill="#62a624"/>
<rect x="1884" y="778" width="3" height="22" fill="#62a624"/>
<rect x="1908" y="776" width="3" height="24" fill="#62a624"/>
<rect x="1932" y="772.9" width="3" height="27.1" fill="#62a624"/>
<rect x="1956" y="769.3" width="3" height="30.7" fill="#62a624"/>
<rect x="1980" y="764.2" width="3" height="35.8" fill="#62a624"/>
<rect x="2004" y="759.1" width="3" height="40.9" fill="#62a624"/>
<rect x="2028" y="742.2" width="3" height="57.8" fill="#62a624"/>
<rect x="2052" y="716.3" width="3" height="83.7" fill="#62a624"/>
<polyline points="110,855.8 134,852.7 158,858 182,864.7 206,875.7 230,878.2 254,882.6 278,872.5 302,868.8 326,877.9 350,873.5 374,917.2 398,929.2 422,933.9 446,933.9 470,867.8 494,846.6 518,845 542,848.4 566,844.2 590,854.6 614,864 638,876 662,888.3 686,910.6 710,912.4 734,941.7 758,947.4 782,939.6 806,949.5 830,951.3 854,926.1 878,928 902,933.3 926,920.4 950,936.7 974,927.1 998,941.1 1022,898.9 1046,901.8 1070,907.1 1094,909.3 1118,904 1142,909.3 1166,890 1190,881.8 1214,862.7 1238,864 1262,863.8 1286,875.4 1310,864.2 1334,841.8 1358,831.6 1382,837.8 1406,837.8 1430,835.7 1454,823.5 1478,827.2 1502,814.3 1526,829.6 1550,823.5 1574,855 1598,853.6 1622,830 1646,886.4 1670,895.2 1694,882.3 1718,889.9 1742,875.6 1766,862 1790,864.6 1814,848.7 1838,851.8 1862,824.3 1886,817.1 1910,845.7 1934,841.6 1958,836.5 1982,833.4 2006,829.4 2030,803.5 2054,785.6" fill="none" stroke="#2b8de0" stroke-width="3.5" stroke-linejoin="round" stroke-linecap="round"/>
<polyline points="110,800.5 134,798.5 158,797 182,796.5 206,797 230,798.5 254,800 278,803 302,805.8 326,808.5 350,811 374,816 398,823.7 422,833 446,843 470,849 494,851 518,854 542,856.7 566,856.7 590,854 614,848.9 638,843.7 662,837.2 686,834.6 710,834.6 734,838.5 758,847.6 782,859.2 806,874.8 830,891.7 854,910 878,926.4 902,940 926,953.3 950,963.3 974,972.2 998,979.6 1022,983.3 1046,984.4 1070,984.4 1094,984 1118,982.7 1142,980.4 1166,976.7 1190,970.7 1214,961.1 1238,952 1262,942 1286,930.4 1310,919.2 1334,906.6 1358,893.2 1382,878.5 1406,864.2 1430,851 1454,838.8 1478,827.2 1502,813.3 1526,801.1 1550,792 1574,783.8 1598,777.7 1622,772.8 1646,770.3 1670,772.3 1694,775.8 1718,783.5 1742,790.7 1766,798.8 1790,804.9 1814,810 1838,815.1 1862,817.1 1886,814.1 1910,810 1934,803.9 1958,796.8 1982,789.6 2006,782.5 2030,774.4 2054,763.6" fill="none" stroke="#d81c1c" stroke-width="4" stroke-linejoin="round" stroke-linecap="round"/>
<polygon points="2054,671 2042,681 2042,685.4 2066.7,685.4 2066.7,681" fill="#808080"/>
<g fill="#222">
<rect x="2212" y="686.75" width="4" height="1.5"/>
<rect x="2212" y="788.25" width="4" height="1.5"/>
<rect x="2212" y="799.25" width="4" height="1.5"/>
</g>
<text x="2216" y="24.95" font-family='"Liberation Sans", sans-serif' font-size="36" fill="#000" stroke="#000" stroke-width="0.5" textLength="138" lengthAdjust="spacingAndGlyphs">3355.85</text>
<text x="2216" y="313.2" font-family='"Liberation Sans", sans-serif' font-size="36" fill="#000" stroke="#000" stroke-width="0.5" textLength="138" lengthAdjust="spacingAndGlyphs">3276.65</text>
<text x="2216" y="505.2" font-family='"Liberation Sans", sans-serif' font-size="36" fill="#000" stroke="#000" stroke-width="0.5" textLength="138" lengthAdjust="spacingAndGlyphs">3223.85</text>
<text x="2216" y="601.2" font-family='"Liberation Sans", sans-serif' font-size="36" fill="#000" stroke="#000" stroke-width="0.5" textLength="138" lengthAdjust="spacingAndGlyphs">3197.45</text>
<rect x="2214" y="189" width="157" height="42" fill="#26a69a"/>
<text x="2223" y="222" font-family='"Liberation Sans", sans-serif' font-size="36" fill="#ffffff" textLength="138" lengthAdjust="spacingAndGlyphs">3301.30</text>
<rect x="2214" y="85" width="157" height="42" fill="#2c29e4"/>
<text x="2223" y="118" font-family='"Liberation Sans", sans-serif' font-size="36" fill="#ffffff" textLength="138" lengthAdjust="spacingAndGlyphs">3330.00</text>
<rect x="2214" y="157.67" width="157" height="42" fill="#2c29e4"/>
<text x="2223" y="190.67" font-family='"Liberation Sans", sans-serif' font-size="36" fill="#ffffff" textLength="138" lengthAdjust="spacingAndGlyphs">3310.00</text>
<rect x="2214" y="230.33" width="157" height="42" fill="#2c29e4"/>
<text x="2223" y="263.33" font-family='"Liberation Sans", sans-serif' font-size="36" fill="#ffffff" textLength="138" lengthAdjust="spacingAndGlyphs">3290.00</text>
<rect x="2214" y="303" width="157" height="42" fill="#2c29e4"/>
<text x="2223" y="336" font-family='"Liberation Sans", sans-serif' font-size="36" fill="#ffffff" textLength="138" lengthAdjust="spacingAndGlyphs">3270.00</text>
<rect x="2214" y="375.66" width="157" height="42" fill="#2c29e4"/>
<text x="2223" y="408.66" font-family='"Liberation Sans", sans-serif' font-size="36" fill="#ffffff" textLength="138" lengthAdjust="spacingAndGlyphs">3250.00</text>
<rect x="2214" y="448.33" width="157" height="42" fill="#2c29e4"/>
<text x="2223" y="481.33" font-family='"Liberation Sans", sans-serif' font-size="36" fill="#ffffff" textLength="138" lengthAdjust="spacingAndGlyphs">3230.00</text>
<rect x="2214" y="521" width="157" height="42" fill="#2c29e4"/>
<text x="2223" y="554" font-family='"Liberation Sans", sans-serif' font-size="36" fill="#ffffff" textLength="138" lengthAdjust="spacingAndGlyphs">3210.00</text>
<text x="2216" y="719" font-family='"Liberation Sans", sans-serif' font-size="36" fill="#000" stroke="#000" stroke-width="0.5" textLength="116" lengthAdjust="spacingAndGlyphs">100.00</text>
<text x="2216" y="801" font-family='"Liberation Sans", sans-serif' font-size="36" fill="#000" stroke="#000" stroke-width="0.5" textLength="96" lengthAdjust="spacingAndGlyphs">70.00</text>
<text x="2216" y="811.2" font-family='"Liberation Sans", sans-serif' font-size="36" fill="#000" stroke="#000" stroke-width="0.5" textLength="96" lengthAdjust="spacingAndGlyphs">0.000</text>
<text x="2216" y="938" font-family='"Liberation Sans", sans-serif' font-size="36" fill="#000" stroke="#000" stroke-width="0.5" textLength="96" lengthAdjust="spacingAndGlyphs">30.00</text>
<text x="2216" y="1019" font-family='"Liberation Sans", sans-serif' font-size="36" fill="#000" stroke="#000" stroke-width="0.5" textLength="78" lengthAdjust="spacingAndGlyphs">0.00</text>
<text x="120" y="62.8" font-family='"Liberation Sans", sans-serif' font-size="36" fill="#000" stroke="#000" stroke-width="0.5" textLength="148.5" lengthAdjust="spacingAndGlyphs">GOLD, H1</text>
<text x="120" y="103.8" font-family='"Liberation Sans", sans-serif' font-size="36" fill="#000" stroke="#000" stroke-width="0.5" textLength="93" lengthAdjust="spacingAndGlyphs">GOLD</text>
<text x="114.5" y="727.8" font-family='"Liberation Sans", sans-serif' font-size="36" fill="#000" stroke="#000" stroke-width="0.5" textLength="704" lengthAdjust="spacingAndGlyphs">RSI(14) 71.06 MACD(12,26,9) 9.144 3.959</text>
<text x="109.5" y="1065" font-family='"Liberation Sans", sans-serif' font-size="36" fill="#000" stroke="#000" stroke-width="0.5" textLength="214.5" lengthAdjust="spacingAndGlyphs">29 Apr 23:00</text>
<text x="397.5" y="1065" font-family='"Liberation Sans", sans-serif' font-size="36" fill="#000" stroke="#000" stroke-width="0.5" textLength="214.5" lengthAdjust="spacingAndGlyphs">30 Apr 12:00</text>
<text x="686.3" y="1065" font-family='"Liberation Sans", sans-serif' font-size="36" fill="#000" stroke="#000" stroke-width="0.5" textLength="204" lengthAdjust="spacingAndGlyphs">1 May 01:00</text>
<text x="974.3" y="1065" font-family='"Liberation Sans", sans-serif' font-size="36" fill="#000" stroke="#000" stroke-width="0.5" textLength="204" lengthAdjust="spacingAndGlyphs">1 May 13:00</text>
<text x="1262.3" y="1065" font-family='"Liberation Sans", sans-serif' font-size="36" fill="#000" stroke="#000" stroke-width="0.5" textLength="204" lengthAdjust="spacingAndGlyphs">2 May 02:00</text>
<text x="1550.3" y="1065" font-family='"Liberation Sans", sans-serif' font-size="36" fill="#000" stroke="#000" stroke-width="0.5" textLength="204" lengthAdjust="spacingAndGlyphs">2 May 14:00</text>
<text x="1838.3" y="1065" font-family='"Liberation Sans", sans-serif' font-size="36" fill="#000" stroke="#000" stroke-width="0.5" textLength="204" lengthAdjust="spacingAndGlyphs">5 May 03:00</text>
<rect x="0" y="0" width="108" height="1080" fill="#000000"/>
</svg>
</body></html>
